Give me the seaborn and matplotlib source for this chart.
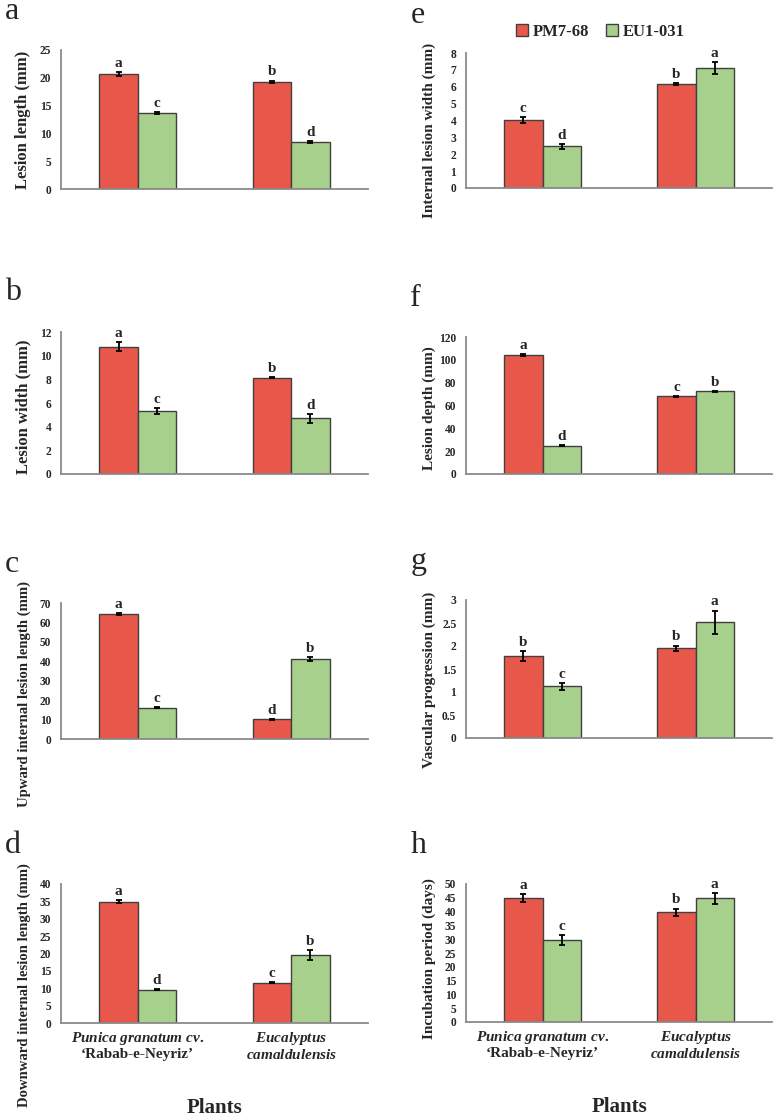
import numpy as np
import pandas as pd
import matplotlib
matplotlib.use("Agg")
import matplotlib.pyplot as plt
import seaborn as sns

# 1. data
plants = ["Punica granatum cv. 'Rabab-e-Neyriz'", "Eucalyptus camaldulensis"]
plant_labels = [r"$\mathit{Punica\ granatum\ cv.}$" + "\n\u2018Rabab-e-Neyriz\u2019",
                r"$\mathit{Eucalyptus}$" + "\n" + r"$\mathit{camaldulensis}$"]
isolates = ["PM7-68", "EU1-031"]

# order of values: PM7-68 (Punica, Eucalyptus), EU1-031 (Punica, Eucalyptus)
lesion_length = [20.7, 19.3, 13.6, 8.5]
lesion_length_se = [0.4, 0.2, 0.2, 0.2]
lesion_length_grp = ["a", "b", "c", "d"]

lesion_width = [10.75, 8.15, 5.3, 4.7]
lesion_width_se = [0.38, 0.05, 0.25, 0.4]
lesion_width_grp = ["a", "b", "c", "d"]

upward_length = [64.3, 10.1, 16.1, 41.3]
upward_length_se = [0.4, 0.3, 0.3, 1.0]
upward_length_grp = ["a", "d", "c", "b"]

downward_length = [34.9, 11.6, 9.6, 19.5]
downward_length_se = [0.5, 0.2, 0.2, 1.5]
downward_length_grp = ["a", "c", "d", "b"]

internal_width = [4.03, 6.17, 2.46, 7.11]
internal_width_se = [0.15, 0.05, 0.13, 0.36]
internal_width_grp = ["c", "b", "d", "a"]

lesion_depth = [104.2, 67.9, 24.9, 72.3]
lesion_depth_se = [0.5, 0.6, 0.4, 0.6]
lesion_depth_grp = ["a", "c", "d", "b"]

vascular = [1.79, 1.95, 1.12, 2.52]
vascular_se = [0.11, 0.06, 0.07, 0.25]
vascular_grp = ["b", "b", "c", "a"]

incubation = [44.8, 39.8, 29.8, 44.8]
incubation_se = [1.5, 1.3, 1.8, 2.0]
incubation_grp = ["a", "b", "c", "a"]

COLORS = ["#E8584A", "#A8D08D"]

# 차트 폰트 설정
sns.set_style("white")
plt.rcParams["font.family"] = ["Liberation Serif", "DejaVu Serif"]
plt.rcParams["mathtext.fontset"] = "custom"
plt.rcParams["mathtext.it"] = "Liberation Serif:italic:bold"
plt.rcParams["mathtext.rm"] = "Liberation Serif:bold"

W, H = 776, 1120
fig = plt.figure(figsize=(W / 100, H / 100), dpi=100)

# (letter, ylabel, values, se, groups, ymax, step, box px (l, t, r, b), ylabel size, ylabel shift px)
panels = [
    ("a", "Lesion length (mm)", lesion_length, lesion_length_se, lesion_length_grp, 25, 5, (61, 50, 368, 189), 12, 0),
    ("b", "Lesion width (mm)", lesion_width, lesion_width_se, lesion_width_grp, 12, 2, (61, 332, 368, 474), 12, 4),
    ("c", "Upward internal lesion length (mm)", upward_length, upward_length_se, upward_length_grp, 70, 10, (61, 603, 368, 739), 10.6, 23),
    ("d", "Downward internal lesion length (mm)", downward_length, downward_length_se, downward_length_grp, 40, 5, (61, 884, 368, 1023), 10.6, 32),
    ("e", "Internal lesion width (mm)", internal_width, internal_width_se, internal_width_grp, 8, 1, (466, 53, 772, 188), 11, 10),
    ("f", "Lesion depth (mm)", lesion_depth, lesion_depth_se, lesion_depth_grp, 120, 20, (466, 337, 772, 474), 11, 3),
    ("g", "Vascular progression (mm)", vascular, vascular_se, vascular_grp, 3, 0.5, (466, 600, 772, 738), 11, 11),
    ("h", "Incubation period (days)", incubation, incubation_se, incubation_grp, 50, 5, (466, 884, 772, 1022), 11, 6),
]

for letter, ylabel, vals, se, grp, ymax, step, box, ysize, yshift in panels:
    l, t, r, b = box
    ax = fig.add_axes([l / W, 1 - b / H, (r - l) / W, (b - t) / H])

    df = pd.DataFrame({
        "plant": [p for _ in isolates for p in plants],
        "isolate": [iso for iso in isolates for _ in plants],
        "value": vals,
    })
    sns.barplot(data=df, x="plant", y="value", hue="isolate", order=plants, hue_order=isolates,
                palette=COLORS, width=0.5, errorbar=None, edgecolor="#404040", linewidth=1.0,
                saturation=1, ax=ax, legend=(letter == "e"))

    # error bars + significance letters
    bar_conts = list(ax.containers)
    k = 0
    for cont in bar_conts:
        for p in cont.patches:
            xc = p.get_x() + p.get_width() / 2
            h = p.get_height()
            ax.errorbar(xc, h, yerr=se[k], fmt="none", ecolor="black", elinewidth=1.3,
                        capsize=2.5, capthick=1.3)
            ax.annotate(grp[k], (xc, h + se[k]), xytext=(0, 1.5), textcoords="offset points",
                        ha="center", va="bottom", fontsize=11, fontweight="bold")
            k += 1

    ax.set_xlim(-0.5, len(plants) - 0.5)
    ax.set_ylim(0, ymax)
    ax.set_yticks(np.arange(0, ymax + step / 2, step))
    ax.yaxis.set_major_formatter(matplotlib.ticker.FuncFormatter(lambda v, pos: f"{v:g}"))
    ax.tick_params(axis="both", length=0, pad=7)
    for lab in ax.get_yticklabels():
        lab.set_fontsize(8.3)
        lab.set_fontweight("bold")

    for s in ["top", "right"]:
        ax.spines[s].set_visible(False)
    for s in ["left", "bottom"]:
        ax.spines[s].set_color("#8a8a8a")
        ax.spines[s].set_linewidth(1.3)

    ax.set_ylabel(ylabel, fontsize=ysize, fontweight="bold")
    ax.yaxis.set_label_coords(-0.098, 0.5 - yshift / (b - t))

    if letter in ("d", "h"):
        ax.set_xticks(range(len(plants)))
        ax.set_xticklabels(plant_labels, fontsize=11, fontweight="bold", linespacing=1.1)
        ax.tick_params(axis="x", pad=5)
        ax.set_xlabel("Plants", fontsize=15, fontweight="bold", labelpad=26)
    else:
        ax.set_xticklabels([])
        ax.set_xlabel("")

    ax.text(-0.182, 1.225, letter, transform=ax.transAxes, fontsize=23,
            ha="left", va="baseline")

    if letter == "e":
        ax.legend(loc="center", bbox_to_anchor=(0.44, 1.155), ncol=2, frameon=False,
                  prop={"weight": "bold", "size": 12}, handlelength=0.7, handleheight=0.7,
                  handletextpad=0.3, columnspacing=1.0, borderaxespad=0)

fig.savefig("out.png", dpi=100)
